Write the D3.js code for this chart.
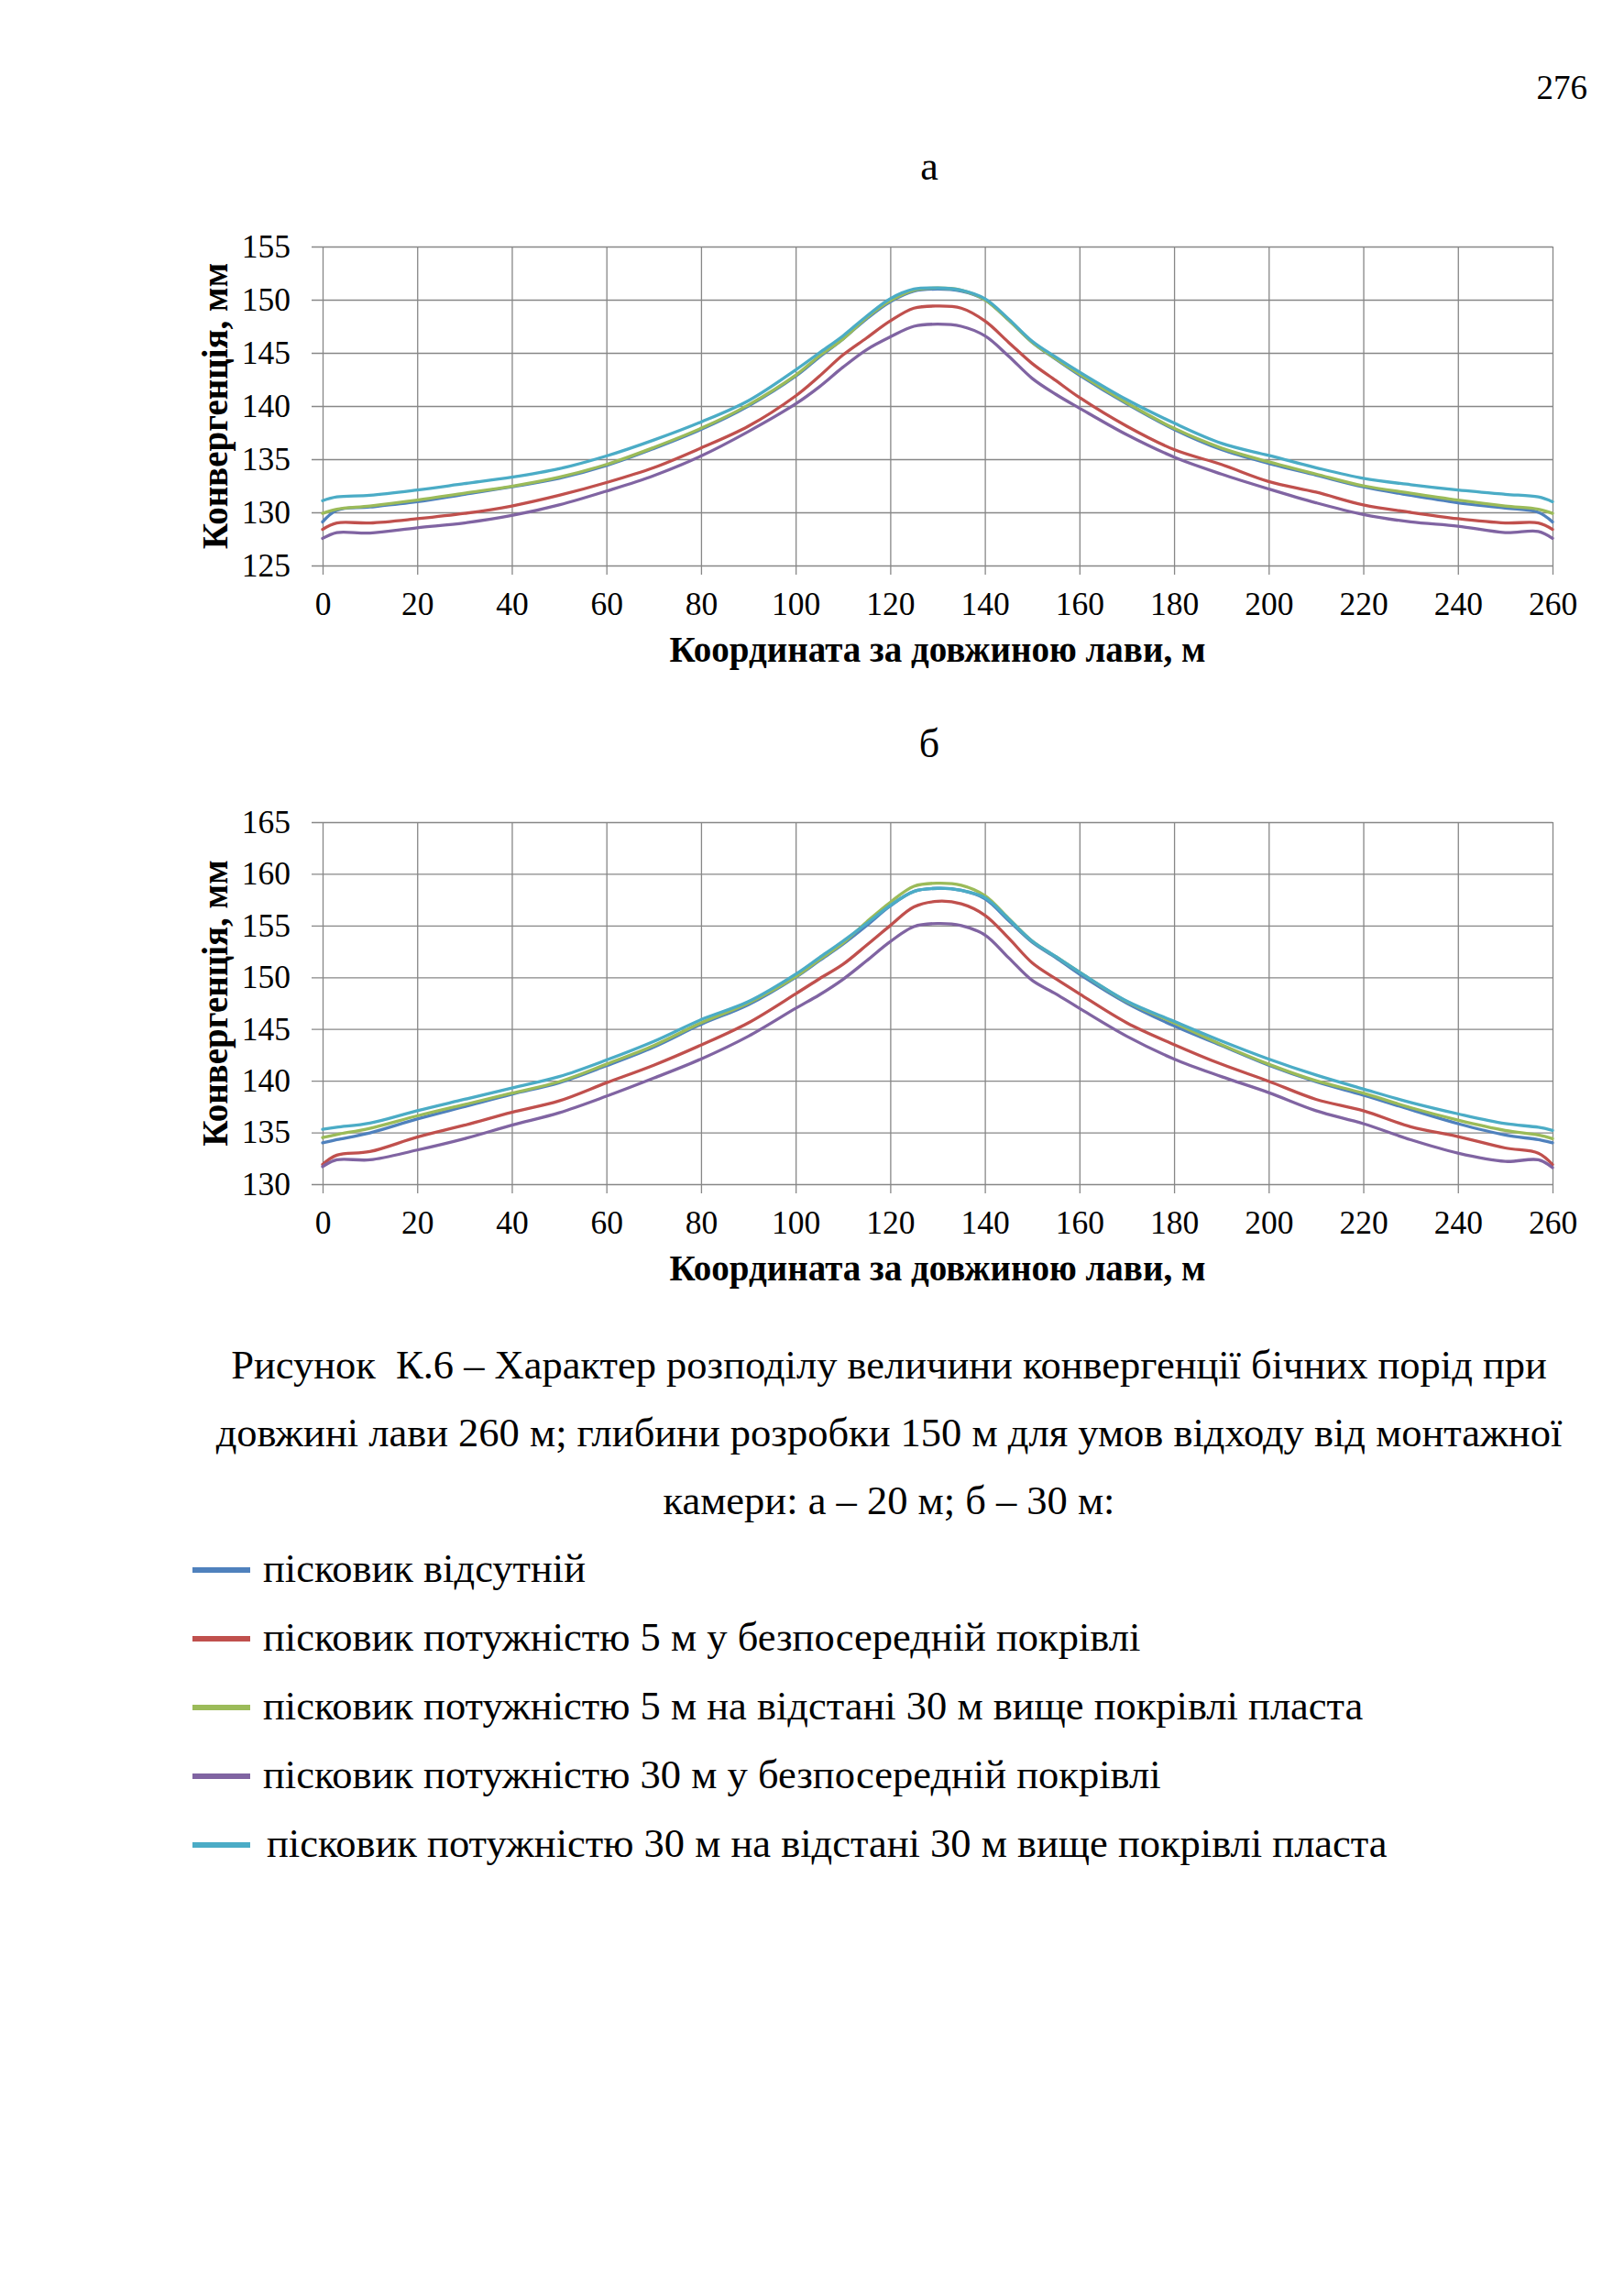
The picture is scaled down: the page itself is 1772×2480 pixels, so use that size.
<!DOCTYPE html>
<html><head><meta charset="utf-8">
<script src="https://cdn.jsdelivr.net/npm/d3@7/dist/d3.min.js"></script>
<style>
html,body{margin:0;padding:0;background:#fff;}
svg{display:block;}
text{font-family:"Liberation Serif","Times New Roman",serif;fill:#000;}
</style></head>
<body>
<script>
// ---------- DATA ----------
const seriesNames = [
  "пісковик відсутній",
  "пісковик потужністю 5 м у безпосередній покрівлі",
  "пісковик потужністю 5 м на відстані 30 м вище покрівлі пласта",
  "пісковик потужністю 30 м у безпосередній покрівлі",
  "пісковик потужністю 30 м на відстані 30 м вище покрівлі пласта"
];
const seriesColors = ["#4F81BD", "#C0504D", "#9BBB59", "#8064A2", "#4BACC6"];

const xTicks = [0,20,40,60,80,100,120,140,160,180,200,220,240,260];
const yTicksA = [125,130,135,140,145,150,155];
const yTicksB = [130,135,140,145,150,155,160,165];

const xCoord = [0,3,10,20,30,40,50,60,70,80,90,100,105,110,115,120,125,130,135,140,145,150,155,160,170,180,190,200,210,220,230,240,250,257,260];

// chart а (20 m)
const a_blue   = [129.1,130.2,130.5,131.0,131.7,132.4,133.2,134.4,136.0,137.8,140.0,142.8,144.6,146.3,148.2,149.8,150.8,151.0,150.8,150.0,148.1,146.0,144.4,142.9,140.2,137.8,135.9,134.6,133.5,132.4,131.6,130.9,130.4,130.0,129.1];
const a_red    = [128.4,129.0,129.0,129.4,129.9,130.6,131.6,132.8,134.2,136.05,138.1,140.95,142.8,144.8,146.4,148.0,149.2,149.4,149.2,148.0,146.0,144.0,142.4,140.8,138.1,135.9,134.5,132.9,131.9,130.7,130.0,129.4,129.0,129.0,128.4];
const a_green  = [129.9,130.3,130.6,131.15,131.8,132.45,133.3,134.5,136.1,137.9,140.1,142.9,144.7,146.3,148.3,149.9,150.9,151.1,150.9,150.0,148.1,146.0,144.45,143.0,140.3,137.9,136.05,134.75,133.6,132.5,131.8,131.15,130.6,130.3,129.9];
const a_purple = [127.55,128.1,128.05,128.55,129.0,129.7,130.7,132.0,133.45,135.3,137.6,140.2,141.8,143.65,145.3,146.5,147.5,147.7,147.5,146.6,144.7,142.6,141.1,139.8,137.3,135.2,133.6,132.2,130.9,129.8,129.1,128.7,128.1,128.2,127.55];
const a_cyan   = [131.1,131.45,131.6,132.1,132.7,133.3,134.1,135.3,136.8,138.5,140.5,143.4,145.0,146.6,148.45,150.1,151.0,151.1,150.9,150.1,148.2,146.1,144.6,143.2,140.6,138.4,136.5,135.35,134.2,133.2,132.6,132.1,131.7,131.45,131.0];

// chart б (30 m)
const b_blue   = [134.0,134.3,134.95,136.3,137.5,138.7,139.8,141.45,143.25,145.45,147.35,150.0,151.6,153.2,155.0,156.9,158.3,158.6,158.4,157.6,155.5,153.4,151.9,150.3,147.5,145.3,143.4,141.5,139.9,138.6,137.2,135.85,134.75,134.3,134.0];
const b_red    = [131.9,132.8,133.15,134.55,135.7,136.95,138.05,139.8,141.5,143.45,145.6,148.4,149.85,151.25,153.1,155.0,156.8,157.35,157.1,156.0,153.8,151.4,149.85,148.4,145.6,143.5,141.6,139.95,138.2,137.1,135.55,134.6,133.5,133.0,131.9];
const b_green  = [134.5,134.8,135.4,136.6,137.7,138.8,139.9,141.6,143.4,145.6,147.5,150.05,151.7,153.3,155.35,157.25,158.8,159.1,158.9,157.9,155.7,153.5,152.0,150.5,147.65,145.6,143.5,141.6,140.0,138.8,137.4,136.2,135.2,134.75,134.4];
const b_purple = [131.7,132.35,132.35,133.3,134.4,135.7,136.9,138.5,140.25,142.1,144.3,147.0,148.3,149.8,151.6,153.45,154.9,155.2,155.0,154.1,151.9,149.7,148.4,147.0,144.3,142.1,140.4,138.85,137.1,135.85,134.3,133.0,132.2,132.35,131.6];
const b_cyan   = [135.3,135.5,135.9,137.1,138.2,139.3,140.4,142.0,143.8,145.9,147.65,150.3,151.9,153.5,155.2,156.95,158.3,158.6,158.4,157.7,155.65,153.5,152.0,150.5,147.7,145.75,143.85,142.1,140.55,139.2,137.9,136.8,135.85,135.5,135.2];

const chartASeries = [a_blue, a_red, a_green, a_purple, a_cyan];
const chartBSeries = [b_blue, b_red, b_green, b_purple, b_cyan];

const captionLines = [
  "Рисунок  К.6 – Характер розподілу величини конвергенції бічних порід при",
  "довжині лави 260 м; глибини розробки 150 м для умов відходу від монтажної",
  "камери: а – 20 м; б – 30 м:"
];

// ---------- DRAWING ----------
const W = 1772, H = 2480;
const svg = d3.select("body").append("svg").attr("width", W).attr("height", H);
svg.append("rect").attr("width", W).attr("height", H).attr("fill", "#fff");

svg.append("text").attr("x", 1732).attr("y", 108).attr("text-anchor", "end")
  .style("font-size", "37px").text("276");

function drawChart(cfg) {
  const left = 352, right = 1694;
  const w = right - left, h = cfg.bottom - cfg.top;
  const g = svg.append("g").attr("transform", `translate(${left},${cfg.top})`);
  const x = d3.scaleLinear().domain([0, 260]).range([0, w]);
  const y = d3.scaleLinear().domain(cfg.yDomain).range([h, 0]);
  const gridColor = "#878787";

  const ya = g.append("g").attr("transform", "translate(-12,0)")
    .call(d3.axisLeft(y).tickValues(cfg.yTicks).tickSize(-(w + 12)).tickPadding(23).tickFormat(d3.format("d")));
  ya.select(".domain").remove();
  ya.selectAll("line").attr("stroke", gridColor).attr("stroke-width", 1.3);
  ya.selectAll("text").style("font-size", "35.5px").style("font-family", '"Liberation Serif", serif').attr("fill", "#000");

  const xa = g.append("g").attr("transform", `translate(0,${h + 10})`)
    .call(d3.axisBottom(x).tickValues(xTicks).tickSize(-(h + 10)).tickPadding(19).tickFormat(d3.format("d")));
  xa.select(".domain").remove();
  xa.selectAll("line").attr("stroke", gridColor).attr("stroke-width", 1.3);
  xa.selectAll("text").style("font-size", "35.5px").style("font-family", '"Liberation Serif", serif').attr("fill", "#000");

  const line = d3.line().x((d, i) => x(xCoord[i])).y(d => y(d)).curve(d3.curveCatmullRom.alpha(0.5));
  cfg.series.forEach((s, k) => {
    g.append("path").datum(s).attr("d", line).attr("fill", "none")
      .attr("stroke", seriesColors[k]).attr("stroke-width", 3.3)
      .attr("stroke-linejoin", "round").attr("stroke-linecap", "round");
  });

  svg.append("text").attr("x", (left + right) / 2).attr("y", cfg.bottom + 105)
    .attr("text-anchor", "middle").style("font-size", "39px").style("font-weight", "bold")
    .text("Координата за довжиною лави, м");
  svg.append("text").attr("transform", `translate(248,${(cfg.top + cfg.bottom) / 2}) rotate(-90)`)
    .attr("text-anchor", "middle").style("font-size", "39px").style("font-weight", "bold")
    .text("Конвергенція, мм");

  svg.append("text").attr("x", 1014).attr("y", cfg.labelY).attr("text-anchor", "middle")
    .style("font-size", "44px").text(cfg.label);
}

drawChart({ top: 269, bottom: 617, yDomain: [125, 155], yTicks: yTicksA, series: chartASeries, label: "а", labelY: 196 });
drawChart({ top: 897, bottom: 1292, yDomain: [130, 165], yTicks: yTicksB, series: chartBSeries, label: "б", labelY: 826 });

captionLines.forEach((t, i) => {
  svg.append("text").attr("x", 970).attr("y", 1504 + i * 74).attr("text-anchor", "middle")
    .style("font-size", "44.5px").style("white-space", "pre").text(t);
});

const legendY = [1713, 1788, 1863, 1938, 2013];
seriesNames.forEach((n, i) => {
  svg.append("line").attr("x1", 210).attr("x2", 273).attr("y1", legendY[i]).attr("y2", legendY[i])
    .attr("stroke", seriesColors[i]).attr("stroke-width", 6);
  svg.append("text").attr("x", i === 4 ? 291 : 287).attr("y", legendY[i] + 13)
    .style("font-size", "44.5px").text(n);
});
</script>
</body></html>
